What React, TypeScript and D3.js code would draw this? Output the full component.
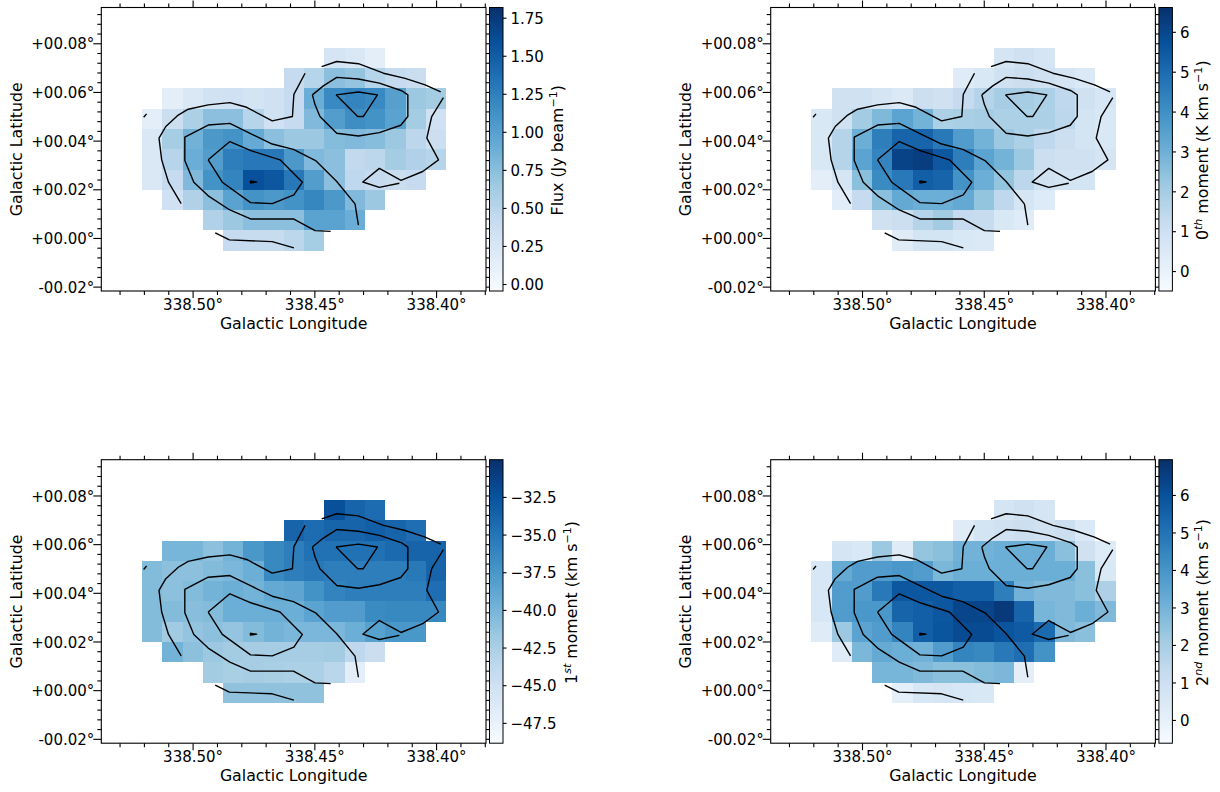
import React, { useEffect, useRef } from "react";
import * as d3 from "d3";

type Row = (number | null)[];
const _ = null;

const lonStart = 338.5208;
const latStart = 0.0781;
const cellStep = 0.00833;

const fluxValues: Row[] = [
  [_, _, _, _, _, _, _, _, _, 0.27, 0.23, 0.14, _, _, _],
  [_, _, _, _, _, _, _, 0.42, 0.51, 0.74, 0.70, 0.51, 0.42, 0.38, _],
  [_, 0.14, 0.23, 0.31, 0.33, 0.29, 0.33, 0.42, 0.89, 1.18, 1.22, 1.18, 1.0, 0.66, 0.62],
  [0.14, 0.36, 0.57, 0.74, 0.74, 0.51, 0.33, 0.42, 0.79, 1.03, 1.15, 1.11, 0.98, 0.62, 0.33],
  [0.23, 0.61, 0.85, 1.07, 1.11, 0.92, 0.74, 0.66, 0.66, 0.77, 0.79, 0.76, 0.66, 0.48, 0.36],
  [0.23, 0.51, 0.89, 1.03, 1.26, 1.30, 1.30, 1.07, 0.79, 0.74, 0.44, 0.48, 0.62, 0.55, 0.51],
  [0.23, 0.42, 0.79, 1.11, 1.22, 1.59, 1.54, 1.30, 1.03, 0.74, 0.46, 0.42, 0.38, 0.42, _],
  [_, 0.33, 0.55, 0.74, 0.98, 1.11, 1.07, 1.11, 1.20, 1.07, 0.79, 0.66, _, _, _],
  [_, _, _, 0.55, 0.66, 0.74, 0.74, 0.74, 0.98, 0.98, 0.89, _, _, _, _],
  [_, _, _, _, 0.42, 0.40, 0.40, 0.48, 0.61, _, _, _, _, _, _],
];

const moment0Values: Row[] = [
  [_, _, _, _, _, _, _, _, _, 0.71, 0.92, 0.71, _, _, _],
  [_, _, _, _, _, _, _, 0.35, 0.57, 0.92, 1.06, 0.92, 0.71, 0.50, _],
  [_, 0.92, 0.92, 0.71, 0.50, 1.06, 0.92, 1.28, 1.63, 1.99, 1.99, 1.85, 1.42, 0.92, 0.64],
  [0.57, 0.92, 2.06, 2.70, 3.41, 2.91, 1.85, 1.92, 1.99, 1.85, 1.85, 1.85, 1.49, 0.78, 0.57],
  [0.57, 1.63, 3.06, 4.48, 5.19, 5.19, 4.62, 3.62, 2.91, 2.20, 1.85, 1.42, 1.06, 0.78, 0.57],
  [0.57, 1.63, 3.41, 4.33, 6.11, 6.25, 5.54, 4.48, 3.41, 2.91, 2.20, 1.06, 0.92, 0.92, 0.71],
  [0.21, 0.71, 2.49, 4.12, 4.62, 5.33, 5.19, 3.91, 3.06, 2.34, 1.49, 0.92, 0.78, 0.78, _],
  [_, 0.28, 1.28, 2.49, 3.20, 3.06, 3.06, 3.20, 2.34, 1.42, 0.71, 0.42, _, _, _],
  [_, _, _, 0.92, 1.06, 1.63, 2.06, 1.28, 1.21, 0.57, 0.35, _, _, _, _],
  [_, _, _, _, 0.35, 0.78, 0.78, 0.57, 0.50, _, _, _, _, _, _],
];

const moment1Values: Row[] = [
  [_, _, _, _, _, _, _, _, _, -32.29, -33.79, -34.36, _, _, _],
  [_, _, _, _, _, _, _, -33.79, -34.36, -33.79, -33.79, -33.42, -33.79, -34.55, _],
  [_, -40.0, -40.0, -40.95, -39.82, -37.56, -36.43, -35.68, -34.74, -34.74, -34.74, -34.74, -34.17, -33.79, -33.79],
  [-40.57, -40.95, -40.95, -40.57, -40.19, -39.44, -36.43, -35.68, -35.3, -35.68, -35.68, -35.68, -35.68, -35.3, -33.79],
  [-40.57, -40.95, -40.57, -39.82, -39.44, -39.82, -39.06, -38.69, -37.18, -36.05, -35.68, -35.68, -35.68, -35.68, -34.55],
  [-40.57, -40.57, -40.76, -40.57, -39.44, -39.44, -39.44, -39.44, -38.5, -37.93, -37.93, -36.62, -36.43, -36.43, -36.43],
  [-40.57, -41.89, -41.32, -40.95, -41.32, -40.57, -39.82, -40.19, -40.19, -40.19, -39.44, -38.31, -37.56, -37.56, _],
  [_, -39.82, -40.95, -41.7, -42.07, -42.26, -42.26, -42.26, -42.26, -42.07, -43.77, -44.52, _, _, _],
  [_, _, _, -42.07, -42.45, -42.26, -42.45, -42.64, -42.64, -43.4, -46.97, _, _, _, _],
  [_, _, _, _, -41.13, -41.13, -41.13, -41.13, -41.13, _, _, _, _, _, _],
];

const moment2Values: Row[] = [
  [_, _, _, _, _, _, _, _, _, 0.67, 0.89, 0.67, _, _, _],
  [_, _, _, _, _, _, _, 0.29, 0.74, 0.89, 1.04, 0.89, 1.04, 0.44, _],
  [_, 0.67, 0.51, 2.25, 0.29, 2.40, 2.56, 3.01, 3.01, 3.16, 3.16, 3.16, 2.56, 0.89, 0.36],
  [0.59, 3.31, 3.76, 3.76, 3.92, 3.76, 2.86, 3.16, 3.16, 3.16, 3.16, 3.16, 3.16, 2.56, 0.51],
  [0.59, 3.76, 3.76, 4.82, 5.81, 5.81, 5.81, 5.58, 5.58, 4.67, 3.01, 2.78, 2.78, 2.56, 1.87],
  [0.59, 3.76, 3.92, 3.92, 5.43, 5.58, 5.81, 6.34, 6.34, 6.64, 5.43, 2.93, 2.78, 3.16, 2.78],
  [0.29, 2.25, 3.54, 3.76, 4.52, 5.58, 5.88, 6.18, 6.18, 5.88, 5.73, 5.28, 2.78, 2.56, _],
  [_, 0.29, 2.86, 3.31, 3.16, 3.01, 3.76, 4.52, 4.37, 4.82, 5.13, 4.07, _, _, _],
  [_, _, _, 2.93, 2.93, 2.78, 2.56, 2.56, 2.71, 2.86, 0.14, _, _, _, _],
  [_, _, _, _, 0.06, 0.59, 0.67, 0.59, 0.51, _, _, _, _, _, _],
];

const contourLines: [number, number][][] = [
  [[338.447, 0.0704], [338.4408, 0.0725], [338.4319, 0.0716], [338.4216, 0.0677], [338.4127, 0.0656], [338.4045, 0.0629], [338.3981, 0.06]],
  [[338.5047, 0.0141], [338.5099, 0.0229], [338.5127, 0.0321], [338.5138, 0.041], [338.511, 0.0458], [338.5059, 0.0505], [338.5018, 0.0529], [338.4936, 0.0547], [338.4847, 0.0556], [338.4778, 0.0537], [338.4673, 0.0481], [338.459, 0.0499], [338.4584, 0.059], [338.4538, 0.0677]],
  [[338.397, 0.0577], [338.4018, 0.0499], [338.4038, 0.041], [338.399, 0.0321], [338.4055, 0.0273], [338.4144, 0.0237], [338.4233, 0.0286], [338.4301, 0.023], [338.4233, 0.0208], [338.4151, 0.0225]],
  [[338.4319, 0.0053], [338.4333, 0.014], [338.4408, 0.0232], [338.4495, 0.0318], [338.4586, 0.0364], [338.4673, 0.0386], [338.4758, 0.0427], [338.4847, 0.0471], [338.4936, 0.0464], [338.5032, 0.0414], [338.5032, 0.0318], [338.4995, 0.0229], [338.4936, 0.0173], [338.4847, 0.0115], [338.4762, 0.0078], [338.4586, 0.0078], [338.4497, 0.003], [338.4433, 0.0027]],
  [[338.4936, 0.0321], [338.4847, 0.0396], [338.4758, 0.0358], [338.4641, 0.0321], [338.4549, 0.0229], [338.4584, 0.0177], [338.4673, 0.0141], [338.4762, 0.0145], [338.4878, 0.0229], [338.4936, 0.0321]],
  [[338.4764, 0.0234], [338.4737, 0.023], [338.4762, 0.0226], [338.4764, 0.0234]],
  [[338.4508, 0.0588], [338.4463, 0.0625], [338.4408, 0.066], [338.4319, 0.0653], [338.4233, 0.0636], [338.4141, 0.0605], [338.4116, 0.0588], [338.4116, 0.0499], [338.4145, 0.0463], [338.4233, 0.0433], [338.4319, 0.0419], [338.4408, 0.043], [338.4477, 0.0499], [338.4497, 0.0547], [338.4508, 0.0588]],
  [[338.4411, 0.0588], [338.4319, 0.06], [338.4241, 0.0588], [338.4299, 0.0499], [338.4322, 0.0499], [338.4411, 0.0588]],
  [[338.4907, 0.0021], [338.4849, -0.0008], [338.4673, -0.0015], [338.4584, -0.0041]],
  [[338.5201, 0.0496], [338.5189, 0.051]],
];

const lonMajor = [338.5, 338.45, 338.4];
const lonMinor = [338.53, 338.52, 338.51, 338.49, 338.48, 338.47, 338.46, 338.44, 338.43, 338.42, 338.41, 338.39, 338.38];
const latMajor = [0.08, 0.06, 0.04, 0.02, 0.0, -0.02];
const latMinor = [0.092, 0.088, 0.084, 0.076, 0.072, 0.068, 0.064, 0.056, 0.052, 0.048, 0.044, 0.036, 0.032, 0.028, 0.024, 0.016, 0.012, 0.008, 0.004, -0.004, -0.008, -0.012, -0.016];

const fluxTicks = [0, 0.25, 0.5, 0.75, 1.0, 1.25, 1.5, 1.75];
const moment0Ticks = [0, 1, 2, 3, 4, 5, 6];
const moment1Ticks = [-32.5, -35, -37.5, -40, -42.5, -45, -47.5];
const moment2Ticks = [0, 1, 2, 3, 4, 5, 6];

interface Panel {
  values: Row[];
  domain: [number, number];
  ticks: number[];
  fmt: string;
  label: [string, string, string, string]; // text, sup1, text, sup2
  ox: number;
  oy: number;
  labelX: number;
}

const panels: Panel[] = [
  { values: fluxValues, domain: [-0.046, 1.817], ticks: fluxTicks, fmt: ".2f", label: ["Flux (Jy beam", "", "", "\u22121"], ox: 0, oy: 0, labelX: 563 },
  { values: moment0Values, domain: [-0.5, 6.61], ticks: moment0Ticks, fmt: "d", label: ["0", "th", " moment (K km s", "\u22121"], ox: 669.4, oy: 0, labelX: 1207.7 },
  { values: moment1Values, domain: [-48.85, -30.03], ticks: moment1Ticks, fmt: ".1f", label: ["1", "st", " moment (km s", "\u22121"], ox: 0, oy: 452.2, labelX: 576.7 },
  { values: moment2Values, domain: [-0.62, 6.94], ticks: moment2Ticks, fmt: "d", label: ["2", "nd", " moment (km s", "\u22121"], ox: 669.4, oy: 452.2, labelX: 1207.7 },
];

const blues = d3.schemeBlues[9] as readonly string[];
const FONT = "'DejaVu Sans', sans-serif";
const TICK_FS = 15;
const LABEL_FS = 15.8;

const axL = 101.3, axR = 486, axT = 7.5, axB = 291;
const cbL = 489.5, cbR = 503;

function latFmt(v: number) {
  const s = v < 0 ? "-" : "+";
  return `${s}00.${String(Math.round(Math.abs(v) * 100)).padStart(2, "0")}\u00b0`;
}

export default function App() {
  const ref = useRef<SVGSVGElement>(null);
  useEffect(() => {
    const svg = d3.select(ref.current!);
    svg.selectAll("*").remove();
    const defs = svg.append("defs");
    const grad = defs.append("linearGradient").attr("id", "blues").attr("x1", 0).attr("x2", 0).attr("y1", 1).attr("y2", 0);
    blues.forEach((c, i) => grad.append("stop").attr("offset", i / (blues.length - 1)).attr("stop-color", c));

    const x = d3.scaleLinear().domain([338.5375, 338.3795]).range([axL, axR]);
    const y = d3.scaleLinear().domain([-0.0218, 0.0947]).range([axB, axT]);
    const line = d3.line<[number, number]>().x((d) => x(d[0])).y((d) => y(d[1]));

    panels.forEach((p) => {
      const g = svg.append("g").attr("transform", `translate(${p.ox},${p.oy})`);
      const t = d3.scaleLinear().domain(p.domain).range([0, 1]);
      const color = d3
        .scaleLinear<string>()
        .domain(blues.map((_c, i) => i / (blues.length - 1)))
        .range(blues as string[]);

      // cells
      const cells = g.append("g").attr("shape-rendering", "crispEdges");
      p.values.forEach((row, r) =>
        row.forEach((v, c) => {
          if (v === null) return;
          const x0 = x(lonStart - c * cellStep);
          const x1 = x(lonStart - (c + 1) * cellStep);
          const y0 = y(latStart - r * cellStep);
          const y1 = y(latStart - (r + 1) * cellStep);
          cells.append("rect").attr("x", x0).attr("y", y0).attr("width", x1 - x0).attr("height", y1 - y0).attr("fill", color(t(v)));
        })
      );

      // contours
      contourLines.forEach((l) => {
        g.append("path").attr("d", line(l)!).attr("fill", "none").attr("stroke", "#000").attr("stroke-width", 1.4).attr("stroke-linejoin", "round");
      });

      // axes
      const style = (sel: d3.Selection<SVGGElement, unknown, null, undefined>) => {
        sel.select(".domain").remove();
        sel.selectAll("line").attr("stroke", "#000").attr("stroke-width", 1.1);
        sel.selectAll("text").attr("font-family", FONT).attr("font-size", TICK_FS).attr("fill", "#000");
      };
      const addAxis = (a: d3.Axis<number>, tx: number, ty: number) => {
        const ag = g.append("g").attr("transform", `translate(${tx},${ty})`).attr("font-family", null) as any;
        ag.call(a);
        style(ag);
        return ag;
      };
      const xf = (v: number) => `${v.toFixed(2)}\u00b0`;
      const ax = (d3.axisBottom(x) as any).tickValues(lonMajor).tickSize(7).tickPadding(1.5).tickFormat(xf);
      addAxis(ax, 0, axB);
      addAxis((d3.axisBottom(x) as any).tickValues(lonMinor).tickSize(4).tickFormat(() => ""), 0, axB);
      addAxis((d3.axisTop(x) as any).tickValues(lonMajor).tickSize(7).tickFormat(() => ""), 0, axT);
      addAxis((d3.axisTop(x) as any).tickValues(lonMinor).tickSize(4).tickFormat(() => ""), 0, axT);
      const ly = addAxis((d3.axisLeft(y) as any).tickValues(latMajor).tickSize(8).tickPadding(-1).tickFormat(latFmt), axL, 0);
      ly.selectAll("text").attr("dy", "0.38em");
      addAxis((d3.axisLeft(y) as any).tickValues(latMinor).tickSize(4).tickFormat(() => ""), axL, 0);
      addAxis((d3.axisRight(y) as any).tickValues(latMajor).tickSize(7).tickFormat(() => ""), axR, 0);
      addAxis((d3.axisRight(y) as any).tickValues(latMinor).tickSize(4).tickFormat(() => ""), axR, 0);

      g.append("rect").attr("x", axL).attr("y", axT).attr("width", axR - axL).attr("height", axB - axT).attr("fill", "none").attr("stroke", "#000").attr("stroke-width", 1.1);

      g.append("text").attr("x", (axL + axR) / 2).attr("y", 329).attr("text-anchor", "middle").attr("font-family", FONT).attr("font-size", LABEL_FS).text("Galactic Longitude");
      g.append("text").attr("transform", `translate(22,${(axT + axB) / 2}) rotate(-90)`).attr("text-anchor", "middle").attr("font-family", FONT).attr("font-size", LABEL_FS).text("Galactic Latitude");

      // colorbar
      g.append("rect").attr("x", cbL).attr("y", axT).attr("width", cbR - cbL).attr("height", axB - axT).attr("fill", "url(#blues)").attr("stroke", "#000").attr("stroke-width", 1);
      const cy = d3.scaleLinear().domain(p.domain).range([axB, axT]);
      const fmt = (v: number) => d3.format(p.fmt)(v).replace("-", "\u2212");
      const cb = addAxis((d3.axisRight(cy) as any).tickValues(p.ticks).tickSize(3.5).tickPadding(4).tickFormat(fmt), cbR, 0);
      cb.selectAll("text").attr("dy", "0.38em");

      const lab = g.append("text").attr("transform", `translate(${p.labelX - p.ox},${(axT + axB) / 2 + 1}) rotate(-90)`).attr("text-anchor", "middle").attr("font-family", FONT).attr("font-size", LABEL_FS);
      const [a, s1, b, s2] = p.label;
      lab.append("tspan").text(a);
      if (s1) {
        lab.append("tspan").attr("font-size", LABEL_FS * 0.7).attr("font-style", "italic").attr("dy", -6).text(s1);
        lab.append("tspan").attr("dy", 6).text(b);
      }
      lab.append("tspan").attr("font-size", LABEL_FS * 0.7).attr("dy", -6).text(s2);
      lab.append("tspan").attr("dy", 6).text(")");
    });
  }, []);
  return <svg ref={ref} width={1220} height={792} style={{ position: "absolute", left: 0, top: 0, background: "#fff" }} />;
}
